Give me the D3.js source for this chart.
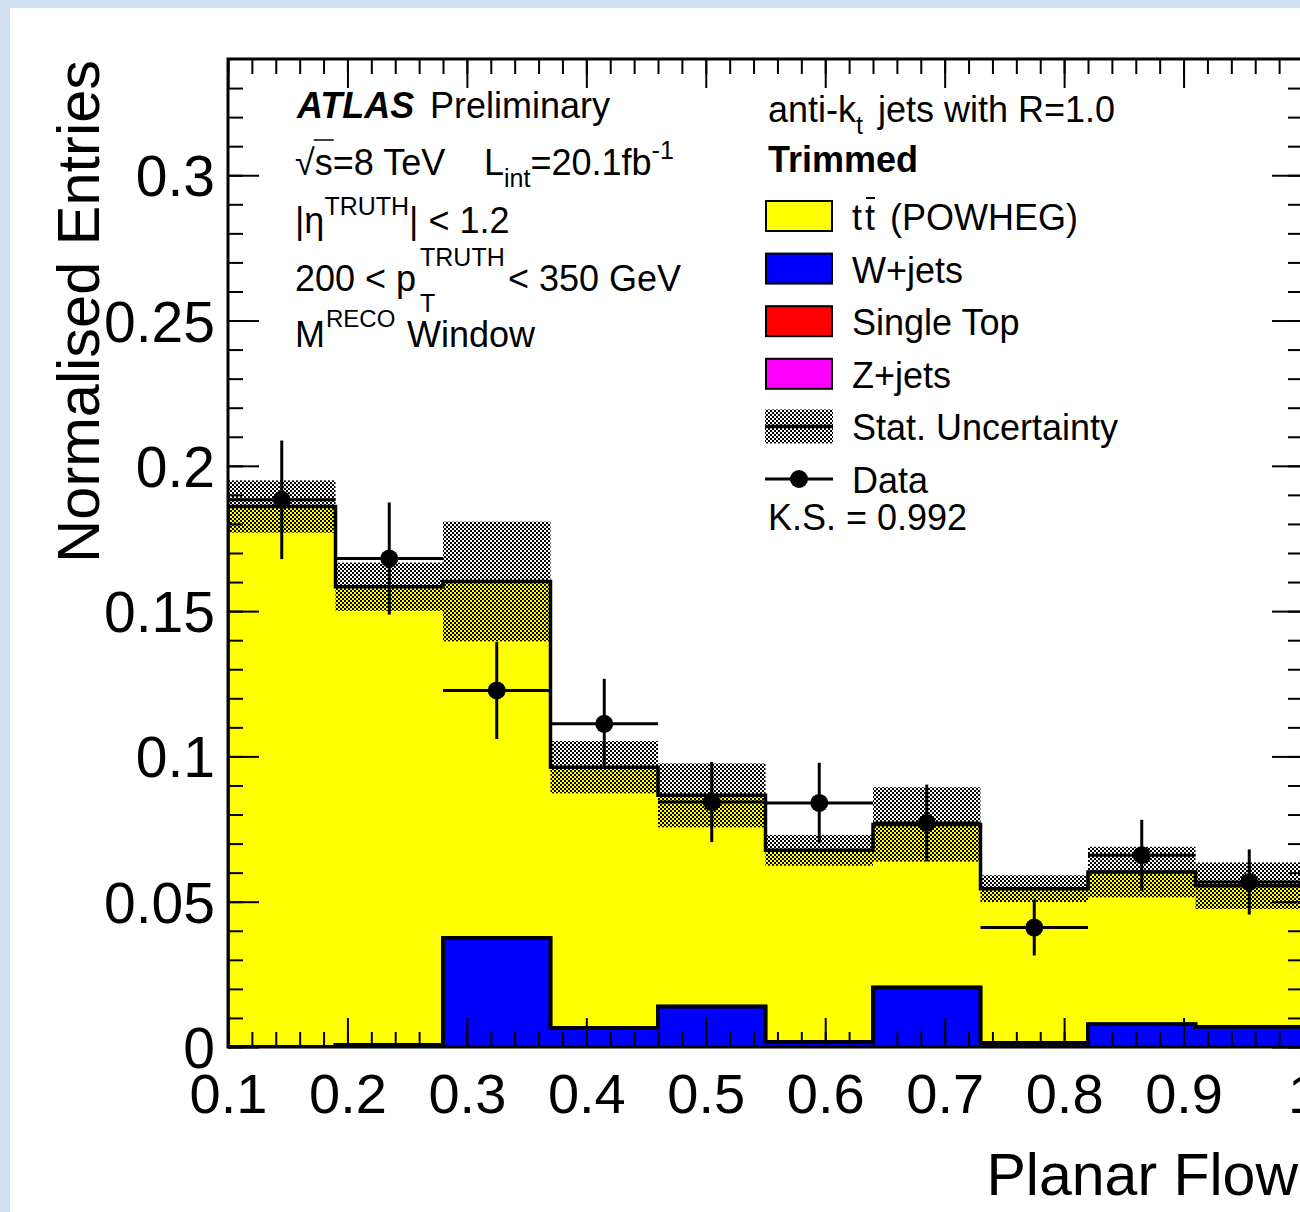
<!DOCTYPE html>
<html>
<head>
<meta charset="UTF-8">
<style>
  body { margin: 0; background: #cfe0f1; }
  svg { display: block; }
  text { font-family: "Liberation Sans", Arial, Helvetica, sans-serif; fill: #000; }
</style>
</head>
<body>
<svg id="chart" width="1300" height="1212"></svg>
<script src="https://d3js.org/d3.v7.min.js"></script>
<script>
// histogram binning (Planar Flow)
const binEdges = [0.1, 0.19, 0.28, 0.37, 0.46, 0.55, 0.64, 0.73, 0.82, 0.91, 1.0];

// stacked MC, normalised
const ttbar     = [0.1860, 0.1576, 0.1227, 0.0897, 0.0727, 0.0660, 0.0561, 0.0530, 0.0524, 0.0485];
const wjets     = [0.0000, 0.0008, 0.0375, 0.0066, 0.0139, 0.0017, 0.0205, 0.0015, 0.0078, 0.0070];
const singleTop = [0, 0, 0, 0, 0, 0, 0, 0, 0, 0];
const zjets     = [0, 0, 0, 0, 0, 0, 0, 0, 0, 0];
const statErr   = [0.0090, 0.0083, 0.0206, 0.0090, 0.0110, 0.0053, 0.0128, 0.0046, 0.0087, 0.0080];

// data points
const dataVals = [0.1883, 0.1681, 0.1227, 0.1112, 0.0843, 0.0840, 0.0771, 0.0411, 0.0660, 0.0568];
const dataErr  = [0.0204, 0.0193, 0.0167, 0.0155, 0.0138, 0.0138, 0.0132, 0.0096, 0.0122, 0.0112];

// axis ticks
const xTickValues = [0.1, 0.2, 0.3, 0.4, 0.5, 0.6, 0.7, 0.8, 0.9, 1.0];
const xTickLabels = ["0.1", "0.2", "0.3", "0.4", "0.5", "0.6", "0.7", "0.8", "0.9", "1"];
const yTickValues = [0, 0.05, 0.1, 0.15, 0.2, 0.25, 0.3];
const yTickLabels = ["0", "0.05", "0.1", "0.15", "0.2", "0.25", "0.3"];

const legendNames  = ["t t (POWHEG)", "W+jets", "Single Top", "Z+jets", "Stat. Uncertainty", "Data"];
const legendColors = ["#ffff00", "#0000ff", "#ff0000", "#ff00ff"];

const svg = d3.select("#chart");

// white canvas on the light blue page
svg.append("rect").attr("x", 10).attr("y", 8).attr("width", 1290).attr("height", 1204).attr("fill", "#fff");

const X0 = 228, X1 = 1303, Y0 = 59, Y1 = 1047;
const x = d3.scaleLinear().domain([0.1, 1.0]).range([X0, X1]);
const y = d3.scaleLinear().domain([0, 0.34]).range([Y1, Y0]);

const defs = svg.append("defs");
const pat = defs.append("pattern").attr("id", "hatch")
  .attr("patternUnits", "userSpaceOnUse").attr("width", 4).attr("height", 4);
pat.append("rect").attr("x", 0).attr("y", 0).attr("width", 2).attr("height", 2).attr("fill", "#000");
pat.append("rect").attr("x", 2).attr("y", 2).attr("width", 2).attr("height", 2).attr("fill", "#000");
defs.append("clipPath").attr("id", "plotclip").append("rect")
  .attr("x", X0).attr("y", Y0).attr("width", X1 - X0).attr("height", Y1 - Y0);

// build the stack, bottom first (W+jets, single top, Z+jets, ttbar on top)
const layers = [
  { vals: wjets, color: legendColors[1] },
  { vals: singleTop, color: legendColors[2] },
  { vals: zjets, color: legendColors[3] },
  { vals: ttbar, color: legendColors[0] }
];
let cum = binEdges.slice(1).map(() => 0);
const stack = layers.map(l => {
  const lo = cum.slice();
  cum = cum.map((c, i) => c + l.vals[i]);
  return { lo: lo, hi: cum.slice(), color: l.color };
});
const total = cum;

function stepPts(vals) {
  const pts = [[binEdges[0], 0]];
  vals.forEach((v, i) => { pts.push([binEdges[i], v]); pts.push([binEdges[i + 1], v]); });
  pts.push([binEdges[binEdges.length - 1], 0]);
  return pts;
}
const line = d3.line().x(d => x(d[0])).y(d => y(d[1]));

const plot = svg.append("g").attr("clip-path", "url(#plotclip)");

// fills
stack.forEach(s => {
  const up = [], down = [];
  s.hi.forEach((v, i) => { up.push([binEdges[i], v]); up.push([binEdges[i + 1], v]); });
  s.lo.forEach((v, i) => { down.push([binEdges[i], v]); down.push([binEdges[i + 1], v]); });
  plot.append("path").attr("d", line(up.concat(down.reverse())) + "Z")
    .attr("fill", s.color).attr("stroke", "none");
});

// stat uncertainty band
plot.selectAll("rect.band").data(total).enter().append("rect")
  .attr("class", "band")
  .attr("x", (d, i) => x(binEdges[i]))
  .attr("width", (d, i) => x(binEdges[i + 1]) - x(binEdges[i]))
  .attr("y", (d, i) => y(d + statErr[i]))
  .attr("height", (d, i) => y(d - statErr[i]) - y(d + statErr[i]))
  .attr("fill", "url(#hatch)");

// outlines
stack.forEach(s => {
  plot.append("path").attr("d", line(stepPts(s.hi)))
    .attr("fill", "none").attr("stroke", "#000").attr("stroke-width", 3.5);
});

// data
const dg = svg.append("g").attr("clip-path", "url(#plotclip)");
dataVals.forEach((v, i) => {
  const xc = x((binEdges[i] + binEdges[i + 1]) / 2);
  dg.append("line").attr("x1", x(binEdges[i])).attr("x2", x(binEdges[i + 1]))
    .attr("y1", y(v)).attr("y2", y(v)).attr("stroke", "#000").attr("stroke-width", 3);
  dg.append("line").attr("x1", xc).attr("x2", xc)
    .attr("y1", y(v + dataErr[i])).attr("y2", y(v - dataErr[i])).attr("stroke", "#000").attr("stroke-width", 3);
  dg.append("circle").attr("cx", xc).attr("cy", y(v)).attr("r", 9).attr("fill", "#000");
});

// axes ticks (all pointing inwards)
const xMinor = d3.range(0.1, 1.0001, 0.02);
const yMinor = d3.range(0, 0.335, 0.01);
function ticks(axis, tr) {
  const g = svg.append("g").attr("transform", tr).call(axis);
  g.select(".domain").remove();
  g.selectAll(".tick line").attr("stroke", "#000").attr("stroke-width", 2);
  g.selectAll("text").remove();
}
ticks(d3.axisBottom(x).tickValues(xMinor).tickSize(-15), `translate(0,${Y1})`);
ticks(d3.axisBottom(x).tickValues(xTickValues).tickSize(-29), `translate(0,${Y1})`);
ticks(d3.axisTop(x).tickValues(xMinor).tickSize(-15), `translate(0,${Y0})`);
ticks(d3.axisTop(x).tickValues(xTickValues).tickSize(-29), `translate(0,${Y0})`);
ticks(d3.axisLeft(y).tickValues(yMinor).tickSize(-15), `translate(${X0},0)`);
ticks(d3.axisLeft(y).tickValues(yTickValues).tickSize(-31), `translate(${X0},0)`);
ticks(d3.axisRight(y).tickValues(yMinor).tickSize(-15), `translate(${X1},0)`);
ticks(d3.axisRight(y).tickValues(yTickValues).tickSize(-31), `translate(${X1},0)`);

svg.append("rect").attr("x", X0).attr("y", Y0).attr("width", X1 - X0).attr("height", Y1 - Y0)
  .attr("fill", "none").attr("stroke", "#000").attr("stroke-width", 3);

// tick labels
const xl = svg.append("g").attr("transform", `translate(0,${Y1})`)
  .call(d3.axisBottom(x).tickValues(xTickValues).tickSize(0).tickPadding(26)
    .tickFormat((d, i) => xTickLabels[i]));
xl.select(".domain").remove();
xl.selectAll("text").style("font-size", "56px").attr("font-family", null);

const yl = svg.append("g").attr("transform", `translate(${X0},0)`)
  .call(d3.axisLeft(y).tickValues(yTickValues).tickSize(0).tickPadding(13)
    .tickFormat((d, i) => yTickLabels[i]));
yl.select(".domain").remove();
yl.selectAll("text").style("font-size", "57px").attr("dy", "0.36em").attr("font-family", null);

// axis titles
svg.append("text").attr("transform", "translate(99,60) rotate(-90)")
  .attr("text-anchor", "end").style("font-size", "59.5px").text("Normalised Entries");
svg.append("text").attr("x", 1298).attr("y", 1195)
  .attr("text-anchor", "end").style("font-size", "59px").text("Planar Flow");

// rich text helper
function rich(xp, yp, parts) {
  const t = svg.append("text").attr("x", xp).attr("y", yp).style("font-size", "36px");
  parts.forEach(p => {
    const s = t.append("tspan").text(p.t);
    if (p.x != null) s.attr("x", p.x);
    if (p.dy) s.attr("dy", p.dy);
    if (p.size) s.style("font-size", p.size + "px");
    if (p.bold) s.style("font-weight", "bold");
    if (p.italic) s.style("font-style", "italic");
  });
  return t;
}

rich(297, 118, [{ t: "ATLAS", bold: true, italic: true }, { t: "Preliminary", x: 430 }]);
const sq = rich(295, 175, [
  { t: "\u221As=8 TeV" }, { t: "L", x: 484 }, { t: "int", size: 25, dy: 12 },
  { t: "=20.1fb", dy: -12 }, { t: "-1", size: 25, dy: -16 }
]);
const sqn = sq.node();
svg.append("line")
  .attr("x1", sqn.getStartPositionOfChar(1).x - 1).attr("x2", sqn.getEndPositionOfChar(1).x + 1)
  .attr("y1", 140).attr("y2", 140).attr("stroke", "#000").attr("stroke-width", 1.5);

rich(295, 233, [{ t: "|\u03B7" }, { t: "TRUTH", size: 25, dy: -18 }, { t: "| < 1.2", dy: 18 }]);
rich(295, 291, [
  { t: "200 < p" }, { t: "T", x: 420, size: 25, dy: 21 }, { t: "TRUTH", x: 420, size: 25, dy: -46 },
  { t: "< 350 GeV", x: 508, dy: 25 }
]);
rich(295, 347, [{ t: "M" }, { t: "RECO", x: 326, size: 24, dy: -20 }, { t: "Window", x: 407, dy: 20 }]);

rich(768, 122, [{ t: "anti-k" }, { t: "t", size: 25, dy: 12 }, { t: "jets with R=1.0", x: 878, dy: -12 }]);
rich(768, 172, [{ t: "Trimmed", bold: true }]);

// legend
const legY = i => 216 + i * 52.6;
const lg = svg.append("g");
legendColors.forEach((c, i) => {
  lg.append("rect").attr("x", 766).attr("y", legY(i) - 15).attr("width", 66).attr("height", 30)
    .attr("fill", c).attr("stroke", "#000").attr("stroke-width", 2);
});
lg.append("rect").attr("x", 765).attr("y", legY(4) - 17).attr("width", 68).attr("height", 34)
  .attr("fill", "url(#hatch)");
lg.append("line").attr("x1", 765).attr("x2", 833).attr("y1", legY(4)).attr("y2", legY(4))
  .attr("stroke", "#000").attr("stroke-width", 3.5);
lg.append("line").attr("x1", 765).attr("x2", 833).attr("y1", legY(5)).attr("y2", legY(5))
  .attr("stroke", "#000").attr("stroke-width", 3);
lg.append("circle").attr("cx", 799).attr("cy", legY(5)).attr("r", 9).attr("fill", "#000");

legendNames.forEach((n, i) => {
  if (i === 0) {
    const t = rich(852, legY(i) + 14, [{ t: "t" }, { t: "t", x: 865 }, { t: "(POWHEG)", x: 890 }]);
    const tn = t.node();
    const a = tn.getStartPositionOfChar(1).x, b = tn.getEndPositionOfChar(1).x;
    svg.append("line").attr("x1", a + 1).attr("x2", b).attr("y1", legY(i) - 18).attr("y2", legY(i) - 18)
      .attr("stroke", "#000").attr("stroke-width", 2);
  } else {
    rich(852, legY(i) + 14, [{ t: n }]);
  }
});
rich(768, 530, [{ t: "K.S. = 0.992" }]);
</script>
</body>
</html>
